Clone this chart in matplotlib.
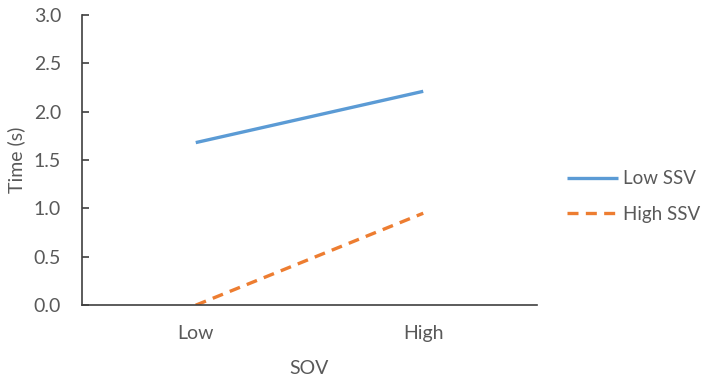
import matplotlib.pyplot as plt

# Datos
categorias = ['Low', 'High']
low_ssv = [1.68, 2.21]
high_ssv = [0.0, 0.95]

gris = '#595959'
plt.rcParams['font.family'] = ['Lato', 'DejaVu Sans']

fig = plt.figure(figsize=(7.01, 3.81), dpi=100)
ax = fig.add_axes([0.117, 0.199, 0.649, 0.762])

x = range(len(categorias))
ax.plot(x, low_ssv, color='#5B9BD5', lw=2.4, label='Low SSV', solid_capstyle='butt')
ax.plot(x, high_ssv, color='#ED7D31', lw=2.4, ls=(0, (3.3, 2.2)), label='High SSV',
        dash_capstyle='butt')

ax.set_xlim(-0.5, 1.5)
ax.set_ylim(0, 3.0)
ax.set_xticks(list(x))
ax.set_xticklabels(categorias)
ax.set_yticks([0, 0.5, 1.0, 1.5, 2.0, 2.5, 3.0])
ax.set_yticklabels(['0.0', '0.5', '1.0', '1.5', '2.0', '2.5', '3.0'])

for s in ['top', 'right']:
    ax.spines[s].set_visible(False)
for s in ['left', 'bottom']:
    ax.spines[s].set_color('#404040')
    ax.spines[s].set_linewidth(1.2)

ax.tick_params(axis='y', direction='in', length=5, width=1.2, color='#404040',
               labelsize=14, labelcolor=gris, pad=15)
ax.tick_params(axis='x', length=0, labelsize=14, labelcolor=gris, pad=14)

ax.set_xlabel('SOV', fontsize=14, color=gris, labelpad=13)
ax.set_ylabel('Time (s)', fontsize=14, color=gris, labelpad=6)

ax.legend(loc='center left', bbox_to_anchor=(1.066, 0.374), frameon=False,
          borderaxespad=0, borderpad=0,
          fontsize=13.5, labelcolor=gris, handlelength=2.72, handletextpad=0.27,
          labelspacing=1.0)

fig.savefig('out.png', dpi=100)
